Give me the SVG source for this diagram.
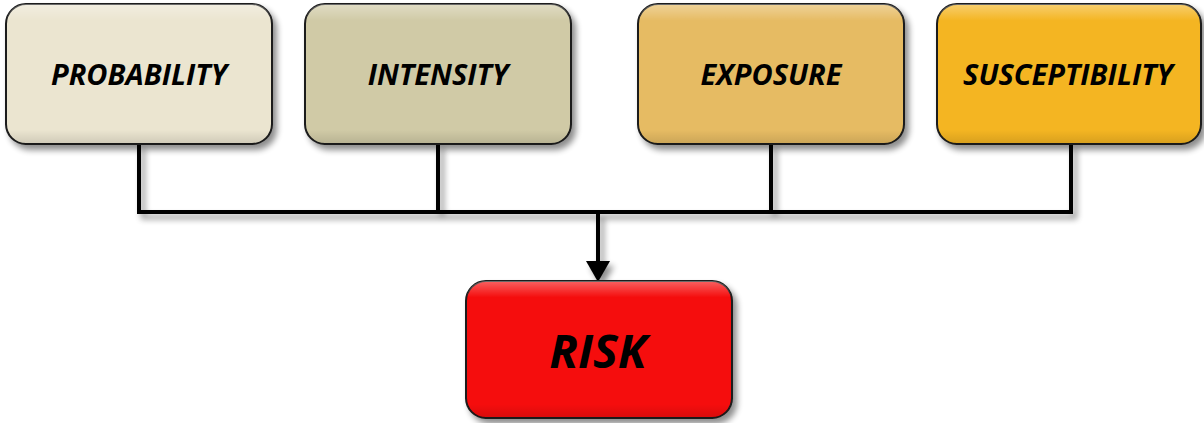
<svg xmlns="http://www.w3.org/2000/svg" width="1204" height="423" viewBox="0 0 1204 423">
<defs>
<filter id="sh" x="-10%" y="-10%" width="125%" height="130%">
<feGaussianBlur in="SourceAlpha" stdDeviation="3"/>
<feOffset dx="4" dy="5" result="b"/>
<feComponentTransfer><feFuncA type="linear" slope="0.45"/></feComponentTransfer>
<feMerge><feMergeNode/><feMergeNode in="SourceGraphic"/></feMerge>
</filter>
<linearGradient id="gloss" x1="0" y1="0" x2="0" y2="1">
<stop offset="0" stop-color="#fff" stop-opacity="0.35"/>
<stop offset="0.12" stop-color="#fff" stop-opacity="0"/>
<stop offset="0.9" stop-color="#000" stop-opacity="0"/>
<stop offset="1" stop-color="#000" stop-opacity="0.12"/>
</linearGradient>
</defs>
<style>
.box{stroke:#1a1a1a;stroke-width:2;filter:url(#sh)}
.gl{fill:url(#gloss);stroke:none}
.lbl{font-family:"Open Sans","Liberation Sans",sans-serif;font-style:italic;font-weight:bold;font-size:29px;fill:#000;text-anchor:middle}
.conn{stroke:#000;stroke-width:4;fill:none}
</style>
<g id="connectors" filter="url(#sh)">
<path class="conn" d="M139,144 V212 H1071 V144 M438,144 V212 M771,144 V212"/>
<path class="conn" d="M598,212 V262"/>
<path d="M586,261 L610,261 L598,282 z" fill="#000"/>
</g>
<g id="probability">
<rect class="box" x="6" y="4" width="266" height="140" rx="20" fill="#EBE5D0"/>
<rect class="gl" x="6" y="4" width="266" height="140" rx="20"/>
<text class="lbl" x="139" y="85">PROBABILITY</text>
</g>
<g id="intensity">
<rect class="box" x="305" y="4" width="266" height="140" rx="20" fill="#D0CAA6"/>
<rect class="gl" x="305" y="4" width="266" height="140" rx="20"/>
<text class="lbl" x="438" y="85">INTENSITY</text>
</g>
<g id="exposure">
<rect class="box" x="638" y="4" width="266" height="140" rx="20" fill="#E6BB63"/>
<rect class="gl" x="638" y="4" width="266" height="140" rx="20"/>
<text class="lbl" x="771" y="85">EXPOSURE</text>
</g>
<g id="susceptibility">
<rect class="box" x="937" y="4" width="264" height="140" rx="20" fill="#F4B520"/>
<rect class="gl" x="937" y="4" width="264" height="140" rx="20"/>
<text class="lbl" x="1068" y="85">SUSCEPTIBILITY</text>
</g>
<g id="risk">
<rect class="box" x="466" y="281" width="266" height="137" rx="20" fill="#F50A0A"/>
<rect class="gl" x="466" y="281" width="266" height="137" rx="20"/>
<text class="lbl" x="598" y="368" style="font-size:47px">RISK</text>
</g>
</svg>
